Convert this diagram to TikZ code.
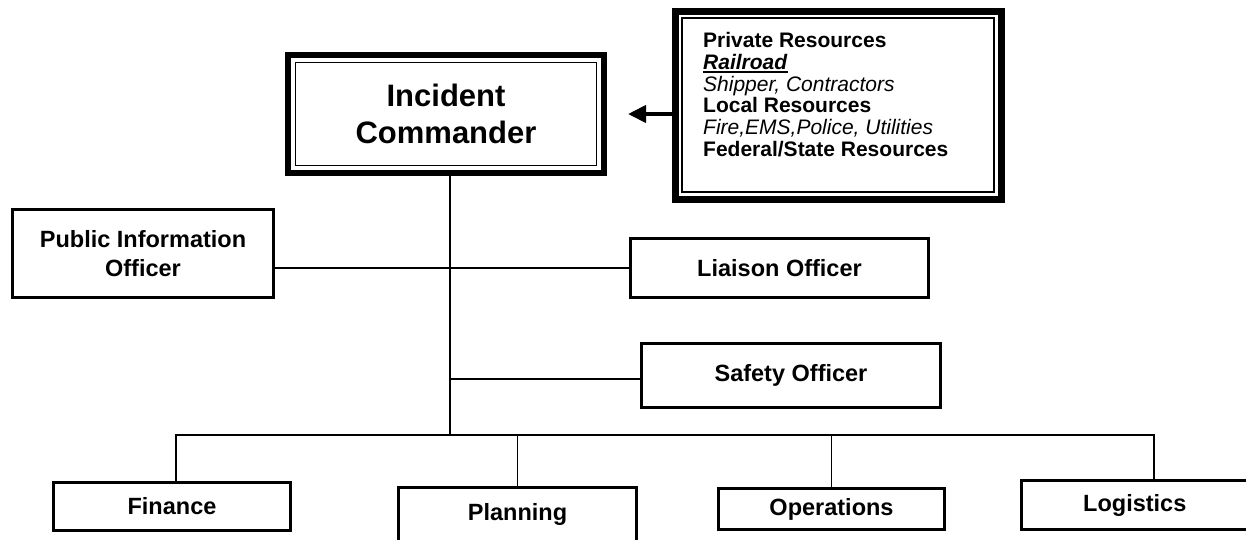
\documentclass[tikz,border=0pt]{standalone}
\usepackage{fontspec}
\setmainfont{Liberation Sans}
\usetikzlibrary{arrows.meta}
\newcommand\thickul[1]{\setbox0=\hbox{#1}\rlap{\rule[-3.5pt]{\wd0}{2pt}}\box0}
\tikzset{
  box/.style={draw, line width=3pt, inner sep=0pt, outer sep=0pt, align=center,
    font=\bfseries\fontsize{23.5}{29}\selectfont},
  link/.style={line width=1.6pt},
}
\begin{document}
\begin{tikzpicture}[x=1pt, y=-1pt]
    \useasboundingbox (0,0) rectangle (1246,539);
    \clip (0,0) rectangle (1246,539);

    % Commander and outside resources
    \node[box, line width=6pt, minimum width=316pt, minimum height=118pt,
      font=\bfseries\fontsize{31}{37.5}\selectfont] (IC) at (446,114) {Incident\\Commander};
    \draw[line width=1.5pt] ([shift={(7.5,7.5)}]IC.north west) rectangle ([shift={(-7.5,-7.5)}]IC.south east);
    \node[box, line width=7pt, minimum width=326pt, minimum height=188pt] (Res) at (838,105) {};
    \draw[line width=1.5pt] ([shift={(7,7)}]Res.north west) rectangle ([shift={(-7,-7)}]Res.south east);
    \node[anchor=north west, inner sep=0pt, align=left, font=\fontsize{21}{21.8}\selectfont] (ResText) at (703,32)
      {\textbf{Private Resources}\\ \thickul{\textbf{\textit{Railroad}}}\\ \textit{Shipper, Contractors}\\
       \textbf{Local Resources}\\ \textit{Fire,EMS,Police, Utilities}\\ \textbf{Federal/State Resources}};

    % Command staff
    \node[box, minimum width=261pt, minimum height=88pt] (PIO) at (143,253.5) {Public Information\\Officer};
    \node[box, minimum width=298pt, minimum height=59pt] (Liaison) at (779.5,268) {Liaison Officer};
    \node[box, minimum width=299pt, minimum height=64pt] (Safety) at (791,375.5) {Safety Officer};

    % General staff
    \node[box, minimum width=237pt, minimum height=48pt] (Fin) at (172,506.5) {Finance};
    \node[box, minimum width=238pt, minimum height=54pt] (Plan) at (517.5,514.5) {Planning};
    \node[box, minimum width=226pt, minimum height=41pt] (Ops) at (831.5,509) {Operations};
    \node[box, minimum width=226.5pt, minimum height=49pt] (Log) at (1134.75,505) {Logistics};

    % Connectors
    \coordinate (trunk) at (450,435);
    \coordinate (busL) at (176,435);
    \coordinate (busR) at (1154,435);
    \coordinate (sj) at (450,379);
    \coordinate (tip) at (628,114);
    \draw[link] (IC.south -| trunk) -- (trunk);
    \draw[link] (PIO.east |- Liaison.west) -- (Liaison.west);
    \draw[link] (sj) -- (sj -| Safety.west);
    \draw[link] (Fin.north -| busL) -- (busL) -- (busR) -- (Log.north -| busR);
    \draw[link] (Plan.north) -- (Plan.north |- trunk);
    \draw[link] (Ops.north) -- (Ops.north |- trunk);
    \draw[line width=4pt, -{Triangle[length=18pt,width=17pt]}] (tip -| Res.west) -- (tip);
\end{tikzpicture}
\end{document}
